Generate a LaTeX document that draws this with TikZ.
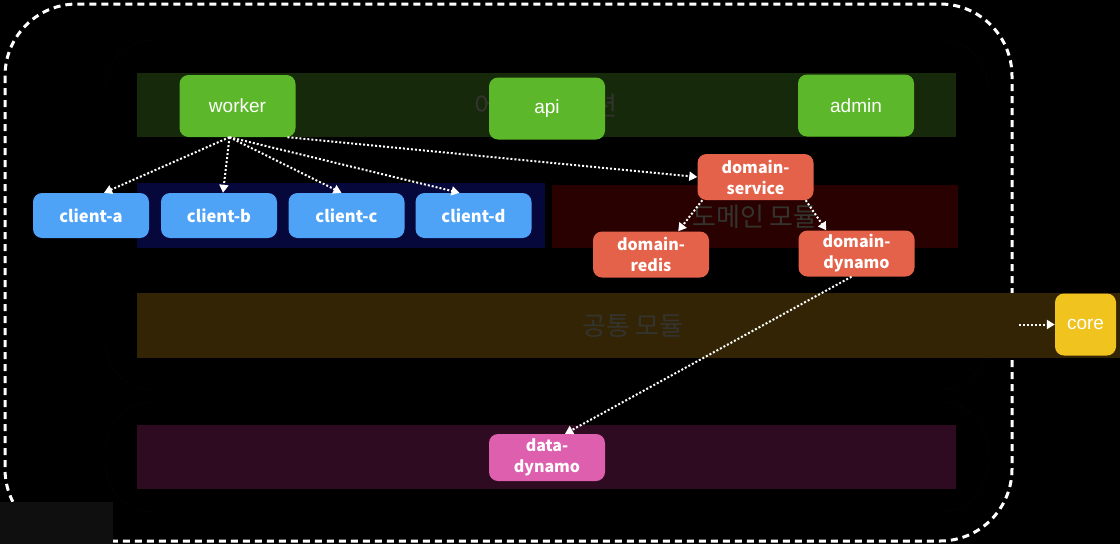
\documentclass[tikz,border=0pt]{standalone}
\usepackage{fontspec}
\setmainfont{Liberation Sans}
\newfontfamily\kr{Noto Sans CJK KR}
\usetikzlibrary{arrows.meta}

\definecolor{appgreen}{HTML}{5CB82A}
\definecolor{clientblue}{HTML}{4FA3F7}
\definecolor{domainred}{HTML}{E5624A}
\definecolor{coreyellow}{HTML}{F0C31F}
\definecolor{datapink}{HTML}{DD5FAE}
\definecolor{bandgreen}{HTML}{16290A}
\definecolor{bandblue}{HTML}{06073A}
\definecolor{bandred}{HTML}{2A0101}
\definecolor{bandyellow}{HTML}{332405}
\definecolor{bandpurple}{HTML}{2E0B20}
\definecolor{labelgray}{HTML}{34342F}
\definecolor{framegray}{HTML}{1E1E1E}

\begin{document}
\begin{tikzpicture}[x=1pt, y=-1pt,
    every node/.style={rounded corners=9pt, inner sep=0pt, text=white},
    appbox/.style={fill=appgreen, minimum width=116pt, minimum height=62pt, font=\fontsize{19}{21}\selectfont},
    clientbox/.style={fill=clientblue, minimum width=116pt, minimum height=45pt, font=\kr\bfseries\fontsize{16.5}{19}\selectfont},
    domainbox/.style={fill=domainred, minimum width=116pt, minimum height=46pt, align=center, font=\kr\bfseries\fontsize{16}{21}\selectfont},
    databox/.style={domainbox, fill=datapink, minimum height=47pt},
    corebox/.style={fill=coreyellow, minimum width=61pt, minimum height=62pt, font=\fontsize{19}{21}\selectfont},
    bandlabel/.style={rounded corners=0pt, text=labelgray, font=\kr\fontsize{26}{28}\selectfont},
    dep/.style={draw=white, line width=2pt, dash pattern=on 2pt off 2pt, -{Triangle[length=8pt, width=9pt]}}]

  \useasboundingbox (0,0) rectangle (1120,544);
  \fill[black] (0,0) rectangle (1120,544);

  \draw[white, line width=3pt, dash pattern=on 7pt off 5pt, rounded corners=72pt] (5,4) rectangle (1012,541);
  \fill[black!94!white] (0,502) rectangle (113,544);
  \draw[framegray, dotted, rounded corners=48pt] (105,40) rectangle (988,390);
  \draw[framegray, dotted, rounded corners=48pt] (105,402) rectangle (988,512);

  \fill[bandgreen] (137,73) rectangle (956,137);
  \fill[bandblue] (137,183) rectangle (545,248);
  \fill[bandred] (552,185) rectangle (958,248);
  \fill[bandyellow] (137,293) rectangle (1120,358);
  \fill[bandpurple] (137,425) rectangle (956,489);

  \node[bandlabel] (app-label) at (546,106) {어플리케이션};
  \node[bandlabel] (domain-label) at (755,217) {도메인 모듈};
  \node[bandlabel] (common-label) at (633,326) {공통 모듈};

  \node[appbox] (worker) at (237.5,106) {worker};
  \node[appbox] (api) at (547,108.5) {api};
  \node[appbox] (admin) at (856,105.5) {admin};

  \node[clientbox] (client-a) at (91,215.5) {client-a};
  \node[clientbox] (client-b) at (219,215.5) {client-b};
  \node[clientbox] (client-c) at (346.5,215.5) {client-c};
  \node[clientbox] (client-d) at (473.5,215.5) {client-d};

  \node[domainbox] (domain-service) at (755.5,177) {domain-\\service};
  \node[domainbox] (domain-redis) at (651,254.5) {domain-\\redis};
  \node[domainbox] (domain-dynamo) at (856.5,253.5) {domain-\\dynamo};

  \node[corebox] (core) at (1085.5,324.5) {core};
  \node[databox] (data-dynamo) at (547,457.5) {data-\\dynamo};

  \coordinate (outer-edge) at (1019,324.5);

  \draw[dep] ([xshift=-8pt]worker.south) -- ([xshift=13pt]client-a.north);
  \draw[dep] ([xshift=-8pt]worker.south) -- ([xshift=4pt]client-b.north);
  \draw[dep] ([xshift=-8pt]worker.south) -- ([xshift=-5pt]client-c.north);
  \draw[dep] ([xshift=-8pt]worker.south) -- ([xshift=-14pt]client-d.north);
  \draw[dep] ([xshift=50pt]worker.south) -- (domain-service.west);
  \draw[dep] ([xshift=5pt]domain-service.south west) -- ([xshift=-31pt]domain-redis.north east);
  \draw[dep] ([xshift=-8pt]domain-service.south east) -- ([xshift=28pt]domain-dynamo.north west);
  \draw[dep] ([xshift=-5pt]domain-dynamo.south) -- ([xshift=18pt]data-dynamo.north);
  \draw[dep] (outer-edge) -- (core.west);
\end{tikzpicture}
\end{document}
